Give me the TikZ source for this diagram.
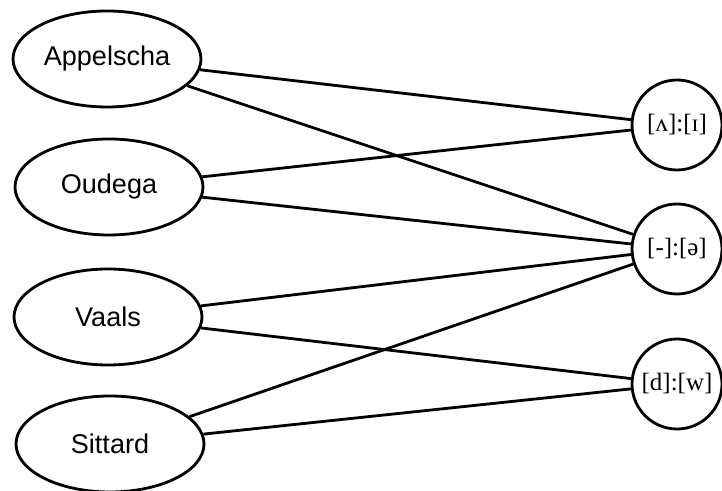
\documentclass[tikz,border=0pt]{standalone}
\usepackage{fontspec}
\setmainfont{Liberation Serif}
\setsansfont{Liberation Sans}
\usetikzlibrary{shapes.geometric}

\begin{document}
\begin{tikzpicture}[
    every node/.style={font=\sffamily},
    place/.style={ellipse, draw=black, line width=1.6pt, inner sep=0pt,
                  minimum width=3.76cm, minimum height=1.92cm,
                  font=\sffamily\fontsize{15.4}{18}\selectfont},
    sound/.style={circle, draw=black, line width=1.6pt, inner sep=0pt,
                  minimum size=1.8cm, font=\rmfamily\fontsize{14.2}{17}\selectfont},
    link/.style={line width=1.6pt, color=black},
]
\useasboundingbox (0,0) rectangle (14.44,9.82);

% ================================================================ places
\node[place] (app) at (2.14, 8.64) {Appelscha};
\node[place] (oud) at (2.18, 6.08) {Oudega};
\node[place] (vaa) at (2.16, 3.48) {Vaals};
\node[place] (sit) at (2.20, 0.94) {Sittard};

% ================================================================ sound pairs
\node[sound] (vi) at (13.54, 7.32) {[ʌ]:[ɪ]};
\node[sound] (sc) at (13.54, 4.84) {[-]:[ə]};
\node[sound] (dw) at (13.54, 2.14) {[d]:[w]};

% who has which
\foreach \a/\b in {app/vi, app/sc, oud/vi, oud/sc, vaa/sc, vaa/dw, sit/sc, sit/dw}{
    \draw[link] (\a) -- (\b);
}
\end{tikzpicture}
\end{document}
